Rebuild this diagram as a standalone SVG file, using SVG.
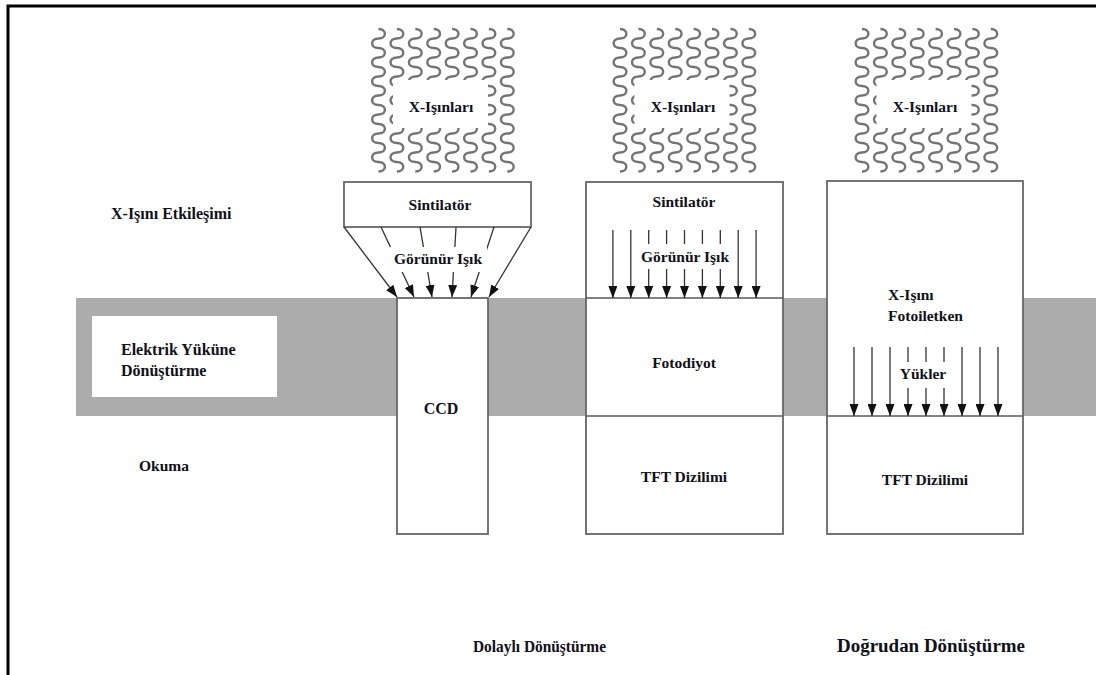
<svg xmlns="http://www.w3.org/2000/svg" xmlns:xlink="http://www.w3.org/1999/xlink" width="1096" height="675" viewBox="0 0 1096 675">
  <style>
    .lbl { font-family: "Liberation Serif", "DejaVu Serif", serif; font-weight: bold; fill: #101018; }
    .s16 { font-size: 16px; }
    .s15 { font-size: 15.5px; }
    .mid { text-anchor: middle; }
    .box { fill: #ffffff; stroke: #666666; stroke-width: 1.8; }
    .divider { stroke: #585858; stroke-width: 1.6; fill: none; }
    .ray { stroke: #333333; stroke-width: 1.3; fill: none; marker-end: url(#head); }
    .wave { fill: none; stroke: #747474; stroke-width: 2.4; }
    .mask { fill: #ffffff; stroke: none; }
  </style>
  <defs>
    <marker id="head" viewBox="0 0 12 9" refX="12" refY="4.5" markerWidth="12" markerHeight="9" markerUnits="userSpaceOnUse" orient="auto">
      <path d="M0,0 L12,4.5 L0,9 Z" fill="#111111"/>
    </marker>
    <!-- one vertical wavy X-ray strand, 15 half-waves of 9.5px -->
    <path id="strand" class="wave" d="M0,0 c8.5,0 8.5,9.5 0,9.5 s-8.5,9.5 0,9.5 s8.5,9.5 0,9.5 s-8.5,9.5 0,9.5 s8.5,9.5 0,9.5 s-8.5,9.5 0,9.5 s8.5,9.5 0,9.5 s-8.5,9.5 0,9.5 s8.5,9.5 0,9.5 s-8.5,9.5 0,9.5 s8.5,9.5 0,9.5 s-8.5,9.5 0,9.5 s8.5,9.5 0,9.5 s-8.5,9.5 0,9.5 s8.5,9.5 0,9.5"/>
    <g id="xrays">
      <use xlink:href="#strand" x="0"/>
      <use xlink:href="#strand" x="18.4"/>
      <use xlink:href="#strand" x="36.8"/>
      <use xlink:href="#strand" x="55.2"/>
      <use xlink:href="#strand" x="73.6"/>
      <use xlink:href="#strand" x="92"/>
      <use xlink:href="#strand" x="110.4"/>
      <use xlink:href="#strand" x="128.8"/>
      <rect class="mask" x="14.5" y="51" width="95" height="48"/>
    </g>
  </defs>

  <rect x="0" y="0" width="1096" height="675" fill="#ffffff"/>

  <!-- page frame (top and left edges) -->
  <path d="M8,675 V6 H1096" fill="none" stroke="#000000" stroke-width="3"/>

  <!-- conversion band -->
  <rect id="band" x="76" y="298" width="1020" height="118" fill="#acacac"/>

  <!-- row labels -->
  <g id="row-interaction">
    <text class="lbl s16" x="111" y="219">X-Işını Etkileşimi</text>
  </g>
  <g id="row-conversion">
    <rect x="92" y="316" width="185" height="81" fill="#ffffff"/>
    <text class="lbl s16" x="121" y="355">Elektrik Yüküne</text>
    <text class="lbl s16" x="121" y="376">Dönüştürme</text>
  </g>
  <g id="row-readout">
    <text class="lbl s15" x="139" y="471">Okuma</text>
  </g>

  <!-- X-ray sources -->
  <g id="xray-1">
    <use xlink:href="#xrays" transform="translate(378.5,29)"/>
    <text class="lbl s15 mid" x="441" y="112">X-Işınları</text>
  </g>
  <g id="xray-2">
    <use xlink:href="#xrays" transform="translate(620,29)"/>
    <text class="lbl s15 mid" x="683" y="112">X-Işınları</text>
  </g>
  <g id="xray-3">
    <use xlink:href="#xrays" transform="translate(862,29)"/>
    <text class="lbl s15 mid" x="925" y="112">X-Işınları</text>
  </g>

  <!-- indirect conversion with CCD -->
  <g id="ccd-scintillator">
    <rect class="box" x="344" y="182" width="187" height="45"/>
    <text class="lbl s15 mid" x="440" y="210">Sintilatör</text>
  </g>
  <g id="ccd">
    <rect class="box" x="397" y="298" width="91" height="236"/>
    <text class="lbl s16 mid" x="441" y="414">CCD</text>
  </g>

  <!-- indirect conversion with photodiode / TFT -->
  <g id="fp-indirect">
    <rect class="box" x="586" y="182" width="197" height="352"/>
    <line class="divider" x1="586" y1="298" x2="783" y2="298"/>
    <line class="divider" x1="586" y1="416" x2="783" y2="416"/>
    <text class="lbl s15 mid" x="684" y="207">Sintilatör</text>
    <text class="lbl s15 mid" x="684" y="368">Fotodiyot</text>
    <text class="lbl s15 mid" x="684" y="482">TFT Dizilimi</text>
  </g>

  <!-- direct conversion with photoconductor / TFT -->
  <g id="fp-direct">
    <rect class="box" x="827" y="181" width="196" height="353"/>
    <line class="divider" x1="827" y1="416" x2="1023" y2="416"/>
    <text class="lbl s15" x="888" y="300">X-Işını</text>
    <text class="lbl s15" x="888" y="321">Fotoiletken</text>
    <text class="lbl s15 mid" x="925" y="485">TFT Dizilimi</text>
  </g>

  <!-- light and charge paths -->
  <g id="connectors">
    <!-- scintillator light fanned onto the CCD -->
    <line class="ray" x1="344" y1="227" x2="397" y2="297"/>
    <line class="ray" x1="381" y1="227" x2="414" y2="297"/>
    <line class="ray" x1="420" y1="227" x2="432" y2="297"/>
    <line class="ray" x1="456" y1="227" x2="452" y2="297"/>
    <line class="ray" x1="494" y1="227" x2="471" y2="297"/>
    <line class="ray" x1="531" y1="227" x2="489" y2="297"/>

    <!-- scintillator light onto the photodiode -->
    <line class="ray" x1="612.9" y1="230" x2="612.9" y2="298"/>
    <line class="ray" x1="630.8" y1="230" x2="630.8" y2="298"/>
    <line class="ray" x1="648.7" y1="230" x2="648.7" y2="298"/>
    <line class="ray" x1="666.6" y1="230" x2="666.6" y2="298"/>
    <line class="ray" x1="684.5" y1="230" x2="684.5" y2="298"/>
    <line class="ray" x1="702.4" y1="230" x2="702.4" y2="298"/>
    <line class="ray" x1="720.3" y1="230" x2="720.3" y2="298"/>
    <line class="ray" x1="738.2" y1="230" x2="738.2" y2="298"/>
    <line class="ray" x1="756.1" y1="230" x2="756.1" y2="298"/>

    <!-- charges drifting to the TFT array -->
    <line class="ray" x1="854" y1="347" x2="854" y2="416"/>
    <line class="ray" x1="872" y1="347" x2="872" y2="416"/>
    <line class="ray" x1="890" y1="347" x2="890" y2="416"/>
    <line class="ray" x1="908" y1="347" x2="908" y2="416"/>
    <line class="ray" x1="926" y1="347" x2="926" y2="416"/>
    <line class="ray" x1="944" y1="347" x2="944" y2="416"/>
    <line class="ray" x1="962" y1="347" x2="962" y2="416"/>
    <line class="ray" x1="980" y1="347" x2="980" y2="416"/>
    <line class="ray" x1="998" y1="347" x2="998" y2="416"/>
  </g>

  <!-- labels sitting over the paths -->
  <g id="light-ccd">
    <rect class="mask" x="390" y="247" width="97" height="25"/>
    <text class="lbl s15 mid" x="438" y="264">Görünür Işık</text>
  </g>
  <g id="light-fp">
    <rect class="mask" x="640" y="244" width="91" height="25"/>
    <text class="lbl s15 mid" x="685" y="262">Görünür Işık</text>
  </g>
  <g id="charges">
    <rect class="mask" x="891" y="362" width="63" height="26"/>
    <text class="lbl s15 mid" x="923" y="379">Yükler</text>
  </g>

  <!-- column captions -->
  <g id="caption-indirect">
    <text class="lbl" x="473" y="652" font-size="17" textLength="133" lengthAdjust="spacingAndGlyphs">Dolaylı Dönüştürme</text>
  </g>
  <g id="caption-direct">
    <text class="lbl" x="837" y="652" font-size="18" textLength="188" lengthAdjust="spacingAndGlyphs">Doğrudan Dönüştürme</text>
  </g>
</svg>
